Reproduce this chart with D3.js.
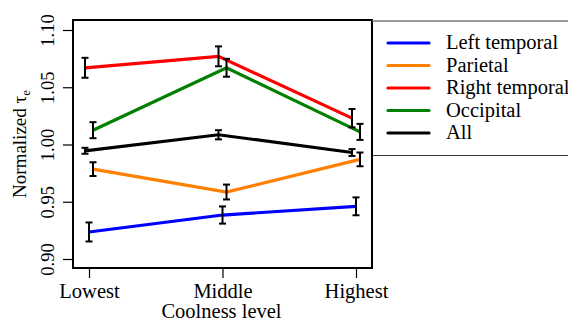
<!DOCTYPE html>
<html>
<head>
<meta charset="utf-8">
<script src="https://cdn.jsdelivr.net/npm/d3@7"></script>
<style>
  body { margin: 0; background: #fff; }
  svg text { font-family: "Liberation Serif", "Times New Roman", serif !important; fill: #000; }
</style>
</head>
<body>
<div id="plot"></div>
<script>
// data
var levels = ["Lowest", "Middle", "Highest"];
var yTicks = [0.90, 0.95, 1.00, 1.05, 1.10];
var seriesNames = ["Left temporal", "Parietal", "Right temporal", "Occipital", "All"];
var seriesColors = ["#0000ff", "#ff8000", "#ff0000", "#008000", "#000000"];
var leftTemporal = [0.9236, 0.9384, 0.9460];
var leftTemporalErr = [0.0083, 0.0075, 0.0078];
var parietal = [0.9785, 0.9585, 0.9870];
var parietalErr = [0.0060, 0.0065, 0.0060];
var rightTemporal = [1.0670, 1.0770, 1.0230];
var rightTemporalErr = [0.0087, 0.0087, 0.0080];
var occipital = [1.0125, 1.0670, 1.0110];
var occipitalErr = [0.0070, 0.0078, 0.0070];
var allRegions = [0.9945, 1.0085, 0.9930];
var allRegionsErr = [0.0026, 0.0040, 0.0030];

var series = [
  {name: seriesNames[0], color: seriesColors[0], values: leftTemporal, err: leftTemporalErr, dx: 0},
  {name: seriesNames[1], color: seriesColors[1], values: parietal, err: parietalErr, dx: 4},
  {name: seriesNames[2], color: seriesColors[2], values: rightTemporal, err: rightTemporalErr, dx: -4},
  {name: seriesNames[3], color: seriesColors[3], values: occipital, err: occipitalErr, dx: 4},
  {name: seriesNames[4], color: seriesColors[4], values: allRegions, err: allRegionsErr, dx: -4}
];

var W = 568, H = 322;
var box = {left: 73, right: 372, top: 20, bottom: 268};
var fs = 20.5;

var svg = d3.select("#plot").append("svg")
  .attr("width", W)
  .attr("height", H);

var x = d3.scalePoint().domain(levels).range([89, 356]);
var y = d3.scaleLinear().domain([0.90, 1.10]).range([259, 30]);

// axes
var xAxis = svg.append("g")
  .attr("transform", "translate(0," + box.bottom + ")")
  .call(d3.axisBottom(x).tickSize(10).tickPadding(3));
xAxis.select(".domain").remove();
xAxis.selectAll("line").attr("stroke", "#000").attr("stroke-width", 1.2);
xAxis.selectAll("text").attr("font-size", fs).attr("dy", "0.85em");

var yAxis = svg.append("g")
  .attr("transform", "translate(" + box.left + ",0)")
  .call(d3.axisLeft(y).tickValues(yTicks).tickFormat(d3.format(".2f")).tickSize(10));
yAxis.select(".domain").remove();
yAxis.selectAll("line").attr("stroke", "#000").attr("stroke-width", 1.2);
yAxis.selectAll("text")
  .attr("font-size", 18.5)
  .attr("text-anchor", "middle")
  .attr("x", 0).attr("dy", 0)
  .attr("transform", "translate(-19,0) rotate(-90)");

// axis labels
svg.append("text")
  .attr("x", (box.left + box.right) / 2 - 1)
  .attr("y", 318)
  .attr("text-anchor", "middle")
  .attr("font-size", fs)
  .text("Coolness level");

var yl = svg.append("text")
  .attr("transform", "translate(26," + ((box.top + box.bottom) / 2) + ") rotate(-90)")
  .attr("text-anchor", "middle")
  .attr("font-size", 19);
yl.append("tspan").text("Normalized τ");
yl.append("tspan").attr("font-size", 13).attr("dy", 4).text("e");

// lines
var line = d3.line()
  .x(function(d) { return d.x; })
  .y(function(d) { return d.y; });

series.forEach(function(s) {
  var pts = s.values.map(function(v, i) { return {x: x(levels[i]) + s.dx, y: y(v)}; });
  svg.append("path")
    .attr("d", line(pts))
    .attr("fill", "none")
    .attr("stroke", s.color)
    .attr("stroke-width", 3.2);
});

// error bars
series.forEach(function(s) {
  var g = svg.append("g").attr("stroke", "#000").attr("stroke-width", 2);
  s.values.forEach(function(v, i) {
    var cx = x(levels[i]) + s.dx;
    var y0 = y(v - s.err[i]), y1 = y(v + s.err[i]);
    g.append("line").attr("x1", cx).attr("x2", cx).attr("y1", y0).attr("y2", y1);
    g.append("line").attr("x1", cx - 3.5).attr("x2", cx + 3.5).attr("y1", y0).attr("y2", y0);
    g.append("line").attr("x1", cx - 3.5).attr("x2", cx + 3.5).attr("y1", y1).attr("y2", y1);
  });
});

// plot box
svg.append("rect")
  .attr("x", box.left).attr("y", box.top)
  .attr("width", box.right - box.left).attr("height", box.bottom - box.top)
  .attr("fill", "none").attr("stroke", "#000").attr("stroke-width", 2);

// legend
var leg = svg.append("g");
leg.append("line").attr("x1", box.right).attr("x2", W).attr("y1", 21).attr("y2", 21)
  .attr("stroke", "#777").attr("stroke-width", 1.5);
leg.append("line").attr("x1", box.right).attr("x2", W).attr("y1", 155.5).attr("y2", 155.5)
  .attr("stroke", "#333").attr("stroke-width", 1.2);

series.forEach(function(s, i) {
  var ly = 43 + i * 22.5;
  leg.append("line")
    .attr("x1", 388).attr("x2", 429).attr("y1", ly).attr("y2", ly)
    .attr("stroke", s.color).attr("stroke-width", 3.2).attr("stroke-linecap", "round");
  leg.append("text")
    .attr("x", 446).attr("y", ly + 6)
    .attr("font-size", fs)
    .text(s.name);
});
</script>
</body>
</html>
